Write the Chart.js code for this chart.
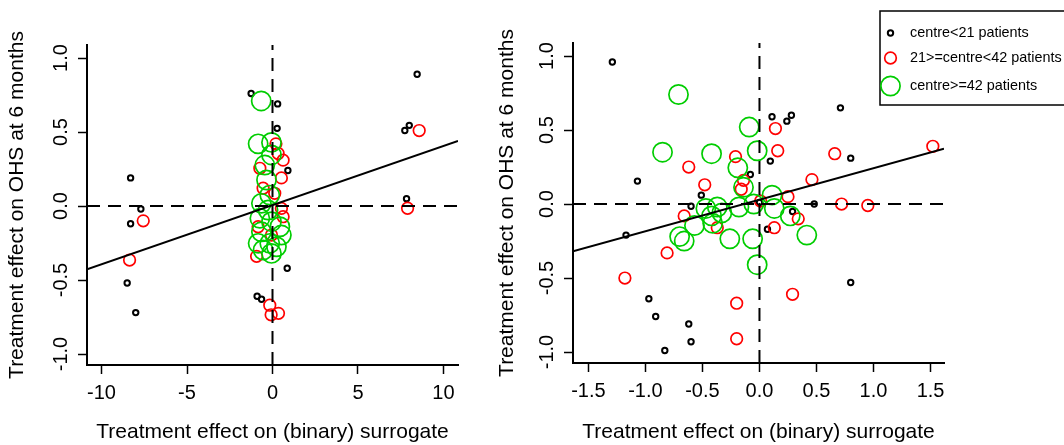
<!DOCTYPE html>
<html lang="en">
<head>
  <meta charset="UTF-8">
  <title>Treatment effect on OHS vs surrogate</title>
  <script src="https://cdn.jsdelivr.net/npm/chart.js"></script>
  <style>
    body {
      margin: 0;
      background: #fff;
      width: 1064px;
      height: 445px;
      overflow: hidden;
      position: relative;
    }

    .panel {
      position: absolute;
      top: 0;
      height: 445px;
    }

    #leftBox { left: 0; width: 532px; }
    #rightBox { left: 490px; width: 574px; }
  </style>
</head>
<body>

  <div class="panel" id="leftBox"><canvas id="leftChart" width="532" height="445"></canvas></div>
  <div class="panel" id="rightBox"><canvas id="rightChart" width="574" height="445"></canvas></div>

  <script>
    // ---- left panel: continuous surrogate scale ----
    const leftSmallX = [-8.3, -7.7, -8.3, -8.5, -8.0, 8.46, 8.0, 7.74, 7.84, -1.25, 0.3, 0.27, 0.9, 0.86, -0.9, -0.64];
    const leftSmallY = [0.19, -0.02, -0.12, -0.52, -0.72, 0.89, 0.545, 0.51, 0.05, 0.76, 0.69, 0.525, 0.24, -0.42, -0.61, -0.63];

    const leftMidX = [-7.56, -8.36, 8.58, 7.9, -0.16, -0.08, 0.35, 0.2, 0.62, 0.33, 0.52, -0.74, -0.55, 0.13, -0.84, 0.62, -0.93, -0.06, 0.52];
    const leftMidY = [-0.10, -0.365, 0.51, -0.015, -0.67, -0.735, -0.725, 0.42, 0.31, 0.355, 0.19, 0.255, 0.12, 0.086, -0.14, -0.072, -0.34, -0.196, -0.016];

    const leftBigX = [-0.66, -0.84, -0.06, -0.06, -0.45, -0.35, -0.16, -0.65, -0.26, -0.74, -0.06, 0.43, 0.52, -0.84, -0.16, -0.55, -0.06, 0.23, -0.65];
    const leftBigY = [0.71, 0.42, 0.43, 0.345, 0.277, 0.176, 0.074, 0.018, -0.027, -0.083, -0.106, -0.14, -0.196, -0.252, -0.252, -0.297, -0.32, -0.275, -0.174];

    const leftFitX = [-10.85, 10.85];
    const leftFitY = [-0.427, 0.439];
    const leftXRange = [-10.85, 10.85];
    const leftXTicks = [-10, -5, 0, 5, 10];

    // ---- right panel: binary surrogate scale ----
    const rightSmallX = [-1.29, 0.11, 0.095, -1.07, -0.51, -0.6, -1.17, 0.07, -0.08, 0.29, -0.97, -0.91, -0.62, -0.6, -0.83, 0.0, 0.71, 0.28, 0.24, 0.8, 0.48, 0.8];
    const rightSmallY = [0.96, 0.59, 0.29, 0.155, 0.06, -0.015, -0.21, -0.17, 0.2, -0.05, -0.64, -0.76, -0.81, -0.93, -0.99, 0.01, 0.65, 0.6, 0.56, 0.31, 0.0, -0.53];

    const rightMidX = [0.14, 0.16, -0.21, -0.62, -0.48, -0.16, -0.14, 0.01, -0.66, -0.37, 0.13, 0.25, -0.81, -1.18, -0.2, -0.2, 0.29, 0.66, 1.52, 0.46, 0.72, 0.95, 0.34];
    const rightMidY = [0.51, 0.36, 0.32, 0.25, 0.13, 0.10, 0.16, 0.02, -0.08, -0.16, -0.16, 0.05, -0.33, -0.5, -0.67, -0.91, -0.61, 0.34, 0.39, 0.165, 0.0, -0.01, -0.10];

    const rightBigX = [-0.71, -0.09, -0.85, -0.42, -0.02, -0.19, -0.14, 0.11, 0.13, -0.37, -0.18, -0.42, -0.41, -0.66, -0.70, -0.26, -0.06, -0.02, -0.57, 0.27, 0.415, -0.33, -0.47, -0.05];
    const rightBigY = [0.74, 0.52, 0.35, 0.34, 0.36, 0.245, 0.113, 0.06, -0.03, -0.02, -0.02, -0.08, -0.13, -0.25, -0.22, -0.235, -0.235, -0.41, -0.145, -0.08, -0.21, -0.06, -0.03, 0.0];

    const rightFitX = [-1.635, 1.618];
    const rightFitY = [-0.32, 0.373];
    const rightXRange = [-1.635, 1.618];
    const rightXTicks = [-1.5, -1.0, -0.5, 0.0, 0.5, 1.0, 1.5];

    // ---- shared ----
    const yRange = [-1.074, 1.088];
    const yTicks = [-1.0, -0.5, 0.0, 0.5, 1.0];
    const groupLabels = ['centre<21 patients', '21>=centre<42 patients', 'centre>=42 patients'];
    const groupColors = ['#000000', '#ff0000', '#00cd00'];
    const groupRadius = [2.7, 5.8, 9.6];

    const FONT = "'Liberation Sans', Arial, sans-serif";
    Chart.defaults.font.family = FONT;
    Chart.defaults.color = '#000';

    function pairs(xs, ys) {
      return xs.map((x, i) => ({ x, y: ys[i] }));
    }

    function pointSet(xs, ys, g) {
      return {
        data: pairs(xs, ys),
        pointStyle: 'circle',
        pointRadius: groupRadius[g],
        pointBorderWidth: g === 0 ? 2 : 1.7,
        pointBorderColor: groupColors[g],
        pointBackgroundColor: 'rgba(0,0,0,0)',
        showLine: false
      };
    }

    function lineSet(xs, ys, dash) {
      return {
        data: pairs(xs, ys),
        showLine: true,
        borderColor: '#000',
        borderWidth: 2,
        borderDash: dash,
        pointRadius: 0,
        fill: false
      };
    }

    // R-style y tick labels: rotated, read bottom to top
    const rotatedYLabels = {
      id: 'rotatedYLabels',
      afterDraw(chart) {
        const s = chart.scales.y;
        const ctx = chart.ctx;
        ctx.save();
        ctx.font = '20px ' + FONT;
        ctx.fillStyle = '#000';
        ctx.textAlign = 'center';
        ctx.textBaseline = 'alphabetic';
        s.ticks.forEach(t => {
          ctx.save();
          ctx.translate(chart.chartArea.left - 20, s.getPixelForValue(t.value));
          ctx.rotate(-Math.PI / 2);
          ctx.fillText(t.value.toFixed(1), 0, 0);
          ctx.restore();
        });
        ctx.restore();
      }
    };

    const groupLegend = {
      id: 'groupLegend',
      afterDraw(chart) {
        const ctx = chart.ctx;
        const bx = 390, by = 11;
        ctx.save();
        ctx.strokeStyle = '#000';
        ctx.lineWidth = 1.5;
        ctx.strokeRect(bx, by, 220, 94);
        ctx.font = '14.4px ' + FONT;
        ctx.textBaseline = 'middle';
        ctx.textAlign = 'left';
        const rows = [33, 58, 86];
        groupLabels.forEach((lab, i) => {
          ctx.beginPath();
          ctx.lineWidth = i === 0 ? 2 : 1.7;
          ctx.strokeStyle = groupColors[i];
          ctx.arc(bx + 10.5, rows[i], groupRadius[i], 0, Math.PI * 2);
          ctx.stroke();
          ctx.fillStyle = '#000';
          ctx.fillText(lab, bx + 30, rows[i]);
        });
        ctx.restore();
      }
    };

    function makeConfig(p) {
      return {
        type: 'scatter',
        data: {
          datasets: [
            lineSet(p.fitX, p.fitY, []),
            lineSet(p.xRange, [0, 0], [13, 8]),
            lineSet([0, 0], yRange, [13, 8]),
            pointSet(p.bigX, p.bigY, 2),
            pointSet(p.midX, p.midY, 1),
            pointSet(p.smallX, p.smallY, 0)
          ]
        },
        options: {
          responsive: false,
          animation: false,
          events: [],
          layout: { padding: { left: 0, top: p.top, right: p.right, bottom: 0 } },
          plugins: { legend: { display: false }, tooltip: { enabled: false } },
          scales: {
            x: {
              type: 'linear',
              position: 'bottom',
              min: p.xRange[0],
              max: p.xRange[1],
              border: { display: true, color: '#000', width: 2 },
              grid: { display: true, drawOnChartArea: false, drawTicks: true, tickLength: 9, tickWidth: 1.5, tickColor: '#000' },
              afterBuildTicks: s => { s.ticks = p.xTicks.map(v => ({ value: v })); },
              ticks: { color: '#000', font: { size: 20 }, padding: 7, maxRotation: 0, autoSkip: false, callback: p.xFmt },
              title: { display: true, text: 'Treatment effect on (binary) surrogate', color: '#000', font: { size: 21 }, padding: 0 },
              afterFit: s => { s.height = p.xAxisH; }
            },
            y: {
              type: 'linear',
              position: 'left',
              min: yRange[0],
              max: yRange[1],
              border: { display: true, color: '#000', width: 2 },
              grid: { display: true, drawOnChartArea: false, drawTicks: true, tickLength: 9, tickWidth: 1.5, tickColor: '#000' },
              afterBuildTicks: s => { s.ticks = yTicks.map(v => ({ value: v })); },
              ticks: { display: false },
              title: { display: true, text: 'Treatment effect on OHS at 6 months', color: '#000', font: { size: 21 }, padding: { top: 5, bottom: 0 } },
              afterFit: s => { s.width = p.yAxisW; }
            }
          }
        },
        plugins: p.legend ? [rotatedYLabels, groupLegend] : [rotatedYLabels]
      };
    }

    new Chart(document.getElementById('leftChart'), makeConfig({
      smallX: leftSmallX, smallY: leftSmallY,
      midX: leftMidX, midY: leftMidY,
      bigX: leftBigX, bigY: leftBigY,
      fitX: leftFitX, fitY: leftFitY,
      xRange: leftXRange, xTicks: leftXTicks,
      xFmt: v => String(v),
      top: 45, right: 74, xAxisH: 80, yAxisW: 87,
      legend: false
    }));

    new Chart(document.getElementById('rightChart'), makeConfig({
      smallX: rightSmallX, smallY: rightSmallY,
      midX: rightMidX, midY: rightMidY,
      bigX: rightBigX, bigY: rightBigY,
      fitX: rightFitX, fitY: rightFitY,
      xRange: rightXRange, xTicks: rightXTicks,
      xFmt: v => Number(v).toFixed(1),
      top: 43, right: 120, xAxisH: 82, yAxisW: 83,
      legend: true
    }));
  </script>
</body>
</html>
